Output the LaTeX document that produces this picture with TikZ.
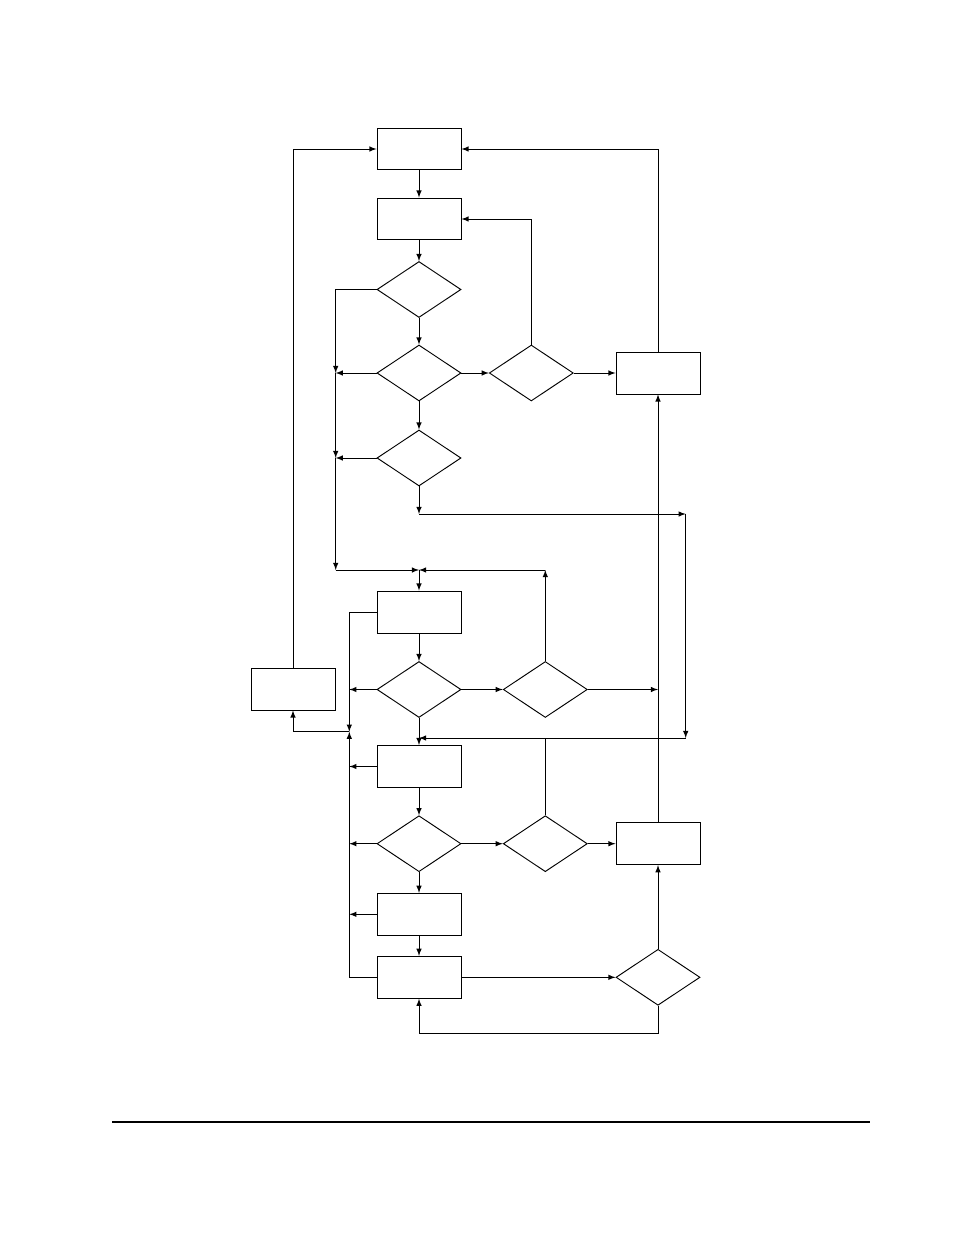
\documentclass[tikz,border=0pt]{standalone}
\usepackage{tikz}
\usetikzlibrary{shapes.geometric}
\tikzset{>=latex}
\tikzset{
	box/.style={draw, rectangle, minimum width=53.9pt, minimum height=26.9pt, inner sep=0pt},
	dec/.style={draw, diamond, minimum width=53.9pt, minimum height=35.9pt, inner sep=0pt},
}
\begin{document}
\begin{tikzpicture}[x=0.6414pt, y=-0.6414pt, line width=0.6pt]
	\useasboundingbox(0, 0)rectangle(954, 1235);
	\node[box](b1)at(419, 149){};
	\node[box](b2)at(419, 219){};
	\node[dec](d1)at(419, 289.5){};
	\node[dec](d2)at(419, 373){};
	\node[dec](d3)at(531.3, 373){};
	\node[box](r1)at(658, 373){};
	\node[dec](d4)at(419, 458){};
	\node[box](b3)at(419, 612){};
	\node[dec](d5)at(419, 689.5){};
	\node[dec](d6)at(545.3, 689.5){};
	\node[box](bl)at(293, 689){};
	\node[box](b4)at(419, 766.5){};
	\node[dec](d8)at(419, 843.7){};
	\node[dec](d7)at(545.3, 843.7){};
	\node[box](r2)at(658, 843.7){};
	\node[box](b5)at(419, 914.3){};
	\node[box](b6)at(419, 977.3){};
	\node[dec](d9)at(658, 977.3){};
	\coordinate(ma)at(335.7, 373);
	\coordinate(mb)at(335.7, 458);
	\coordinate(mc)at(335.7, 570);
	\coordinate(j1)at(419, 570);
	\coordinate(m6)at(545.3, 570);
	\coordinate(k1)at(419, 514);
	\coordinate(k2)at(685.7, 514);
	\coordinate(k3)at(685.7, 738);
	\coordinate(k4)at(419, 738);
	\coordinate(k5)at(545.3, 738);
	\coordinate(n1)at(349.3, 731.7);
	\coordinate(n2)at(658, 689.5);
	\coordinate(q1)at(658, 1033.3);
	% top part
	\draw[->](b1)--(b2);
	\draw[->](b2)--(d1);
	\draw[->](d1)--(d2);
	\draw[->](d2)--(d4);
	\draw[->](d2)--(d3);
	\draw[->](d3)--(r1);
	\draw[->](d3.north)|-(b2.east);
	\draw[->](r1.north)|-(b1.east);
	\draw[->](bl.north)|-(b1.west);
	\draw[->](d1.west)-|(ma);
	\draw[->](d2.west)--(ma);
	\draw[->](ma)--(mb);
	\draw[->](d4.west)--(mb);
	\draw[->](mb)--(mc);
	\draw[->](mc)--(j1);
	\draw[->](d4.south)--(k1);
	\draw[->](k1)--(k2);
	\draw[->](k2)--(k3);
	\draw[->](k3)--(k4);
	% middle part
	\draw[->](d6.north)--(m6);
	\draw[->](m6)--(j1);
	\draw[->](j1)--(b3.north);
	\draw[->](b3)--(d5);
	\draw[->](d5)--(d6);
	\draw[->](d6.east)--(n2);
	\draw[->](r2)--(r1);
	\draw[->](b3.west)-|(n1);
	\draw[->](d5.west)--(d5.west -| n1);
	\draw[->](n1)-|(bl.south);
	\draw[->](d5)--(b4);
	\draw(d7.north)--(k5);
	% bottom part
	\draw[->](b4.west)--(b4.west -| n1);
	\draw[->](d8.west)--(d8.west -| n1);
	\draw[->](b5.west)--(b5.west -| n1);
	\draw[->](b6.west)-|(n1);
	\draw[->](b4)--(d8);
	\draw[->](d8)--(d7);
	\draw[->](d7)--(r2);
	\draw[->](d8)--(b5);
	\draw[->](b5)--(b6);
	\draw[->](b6)--(d9);
	\draw[->](d9)--(r2);
	\draw[->](d9.south)--(q1)-|(b6.south);
	\draw[line width=0.9pt](112, 1122)--(870, 1122);
\end{tikzpicture}
\end{document}
